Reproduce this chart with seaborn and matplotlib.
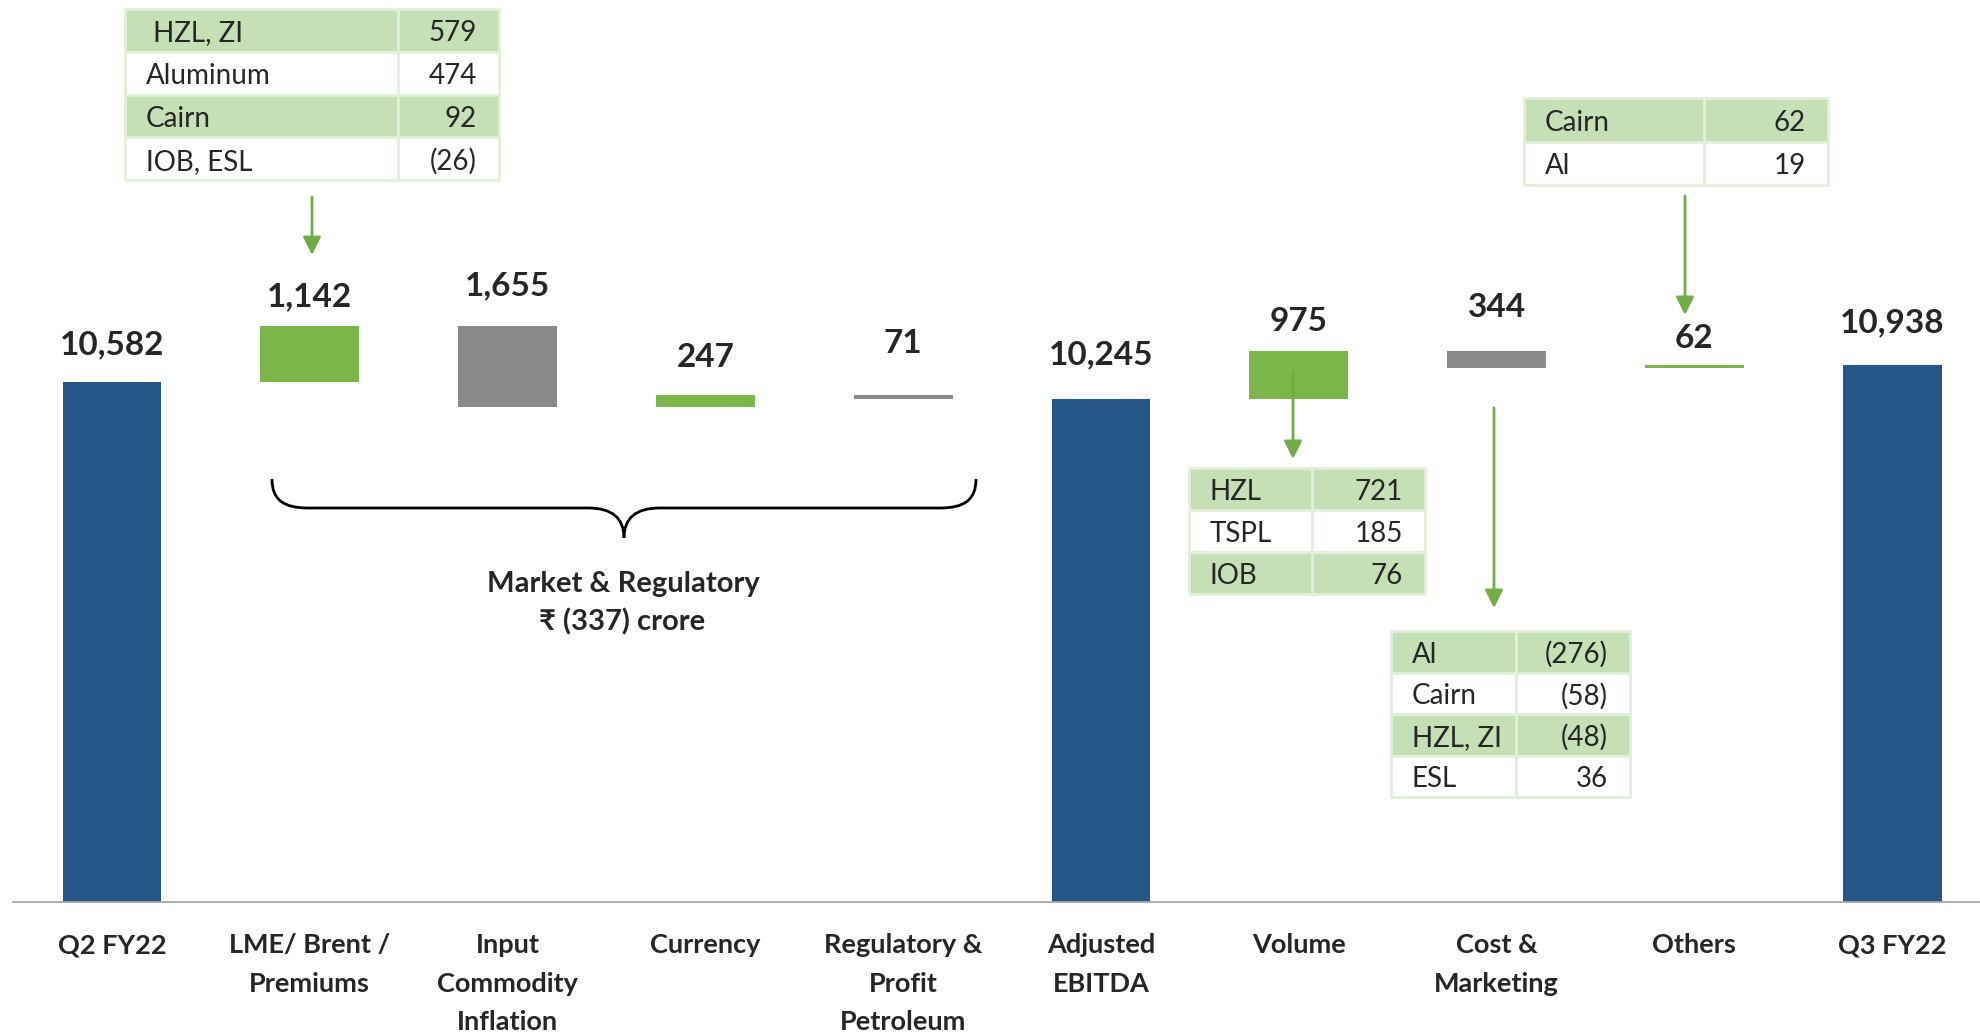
import numpy as np
import pandas as pd
import matplotlib
matplotlib.use('Agg')
from matplotlib import pyplot as plt
from matplotlib.patches import Rectangle, PathPatch
from matplotlib.path import Path
import seaborn as sns

# waterfall data (Rs crore)
categories = ['Q2 FY22', 'LME/ Brent /\nPremiums', 'Input\nCommodity\nInflation', 'Currency',
              'Regulatory &\nProfit\nPetroleum', 'Adjusted\nEBITDA', 'Volume', 'Cost &\nMarketing',
              'Others', 'Q3 FY22']
changes = [10582, 1142, -1655, 247, -71, 10245, 975, -344, 62, 10938]
kinds = ['total', 'up', 'down', 'up', 'down', 'total', 'up', 'down', 'up', 'total']

# break-up tables
lme_names = [' HZL, ZI', 'Aluminum', 'Cairn', 'IOB, ESL']
lme_vals = [579, 474, 92, -26]
vol_names = ['HZL', 'TSPL', 'IOB']
vol_vals = [721, 185, 76]
cost_names = ['Al', 'Cairn', 'HZL, ZI', 'ESL']
cost_vals = [-276, -58, -48, 36]
oth_names = ['Cairn', 'Al']
oth_vals = [62, 19]
market_total = -337

W, H = 1981, 1033
PX_PER_UNIT = 0.04914

# bar bases / heights
base, height = [], []
level = 0
for v, k in zip(changes, kinds):
    if k == 'total':
        base.append(0)
        height.append(v)
        level = v
    else:
        base.append(min(level, level + v))
        height.append(abs(v))
        level += v
df = pd.DataFrame({'cat': categories, 'base': base, 'height': height, 'kind': kinds})

sns.set_style('white')
plt.rcParams['font.family'] = ['Lato', 'DejaVu Sans']

fig = plt.figure(figsize=(W / 100, H / 100), dpi=100)
ax = fig.add_axes([13.1 / W, 131 / H, 1978 / W, 902 / H])

palette = {'total': '#265687', 'up': '#7ab648', 'down': '#8a8a8a'}
for k, c in palette.items():
    sub = df[df.kind == k]
    sns.barplot(data=sub, x='cat', y='height', order=categories, bottom=sub['base'].to_numpy(),
                color=c, saturation=1, width=0.5, errorbar=None, linewidth=0, ax=ax)

ax.set_xlim(-0.5, 9.5)
ax.set_ylim(0, 902 / PX_PER_UNIT)
ax.set_xlabel('')
ax.set_ylabel('')
ax.set_yticks([])
for s in ['left', 'right', 'top']:
    ax.spines[s].set_visible(False)
ax.spines['bottom'].set_color('#a6a6a6')
ax.spines['bottom'].set_linewidth(1.3)
ax.set_xticks(range(len(categories)))
ax.set_xticklabels(categories, fontsize=19.5, fontweight='bold', linespacing=1.72)
ax.set_xticks(np.arange(-0.5, len(categories), 1), minor=True)
ax.tick_params(axis='x', which='major', length=0, pad=22.5)
ax.tick_params(axis='x', which='minor', length=8, color='#a6a6a6', width=1.2, direction='out')

# value labels, offset in px above the bar top
offsets = [37, 29, 40, 38, 52, 44, 29, 43, 26, 42]
for i, (b, h, v) in enumerate(zip(base, height, changes)):
    ax.annotate(f'{abs(v):,}', (i, b + h), xytext=(0, offsets[i] * 0.72), textcoords='offset points',
                ha='center', va='center', fontsize=24, fontweight='bold')

# overlay in pixel coordinates for tables, arrows and brace
ov = fig.add_axes([0, 0, 1, 1])
ov.patch.set_alpha(0)
ov.set_xlim(0, W)
ov.set_ylim(H, 0)
ov.axis('off')


def fmt(v):
    return f'({abs(v)})' if v < 0 else f'{v}'


def draw_table(x0, xs, x1, y0, rh, names, vals, ldx=21, rdx=22):
    for r, (n, v) in enumerate(zip(names, vals)):
        top = y0 + r * rh
        fc = '#c5e0b4' if r % 2 == 0 else 'white'
        ov.add_patch(Rectangle((x0, top), xs - x0, rh, facecolor=fc, edgecolor='#e2efda', lw=2))
        ov.add_patch(Rectangle((xs, top), x1 - xs, rh, facecolor=fc, edgecolor='#e2efda', lw=2))
        ov.text(x0 + ldx, top + rh / 2 + 3, n, ha='left', va='center', fontsize=20)
        ov.text(x1 - rdx, top + rh / 2 + 3, fmt(v), ha='right', va='center', fontsize=20)


draw_table(125, 398, 499, 9, 42.75, lme_names, lme_vals)
draw_table(1524, 1704, 1828, 98, 43.5, oth_names, oth_vals)
draw_table(1189, 1312, 1425, 468, 42, vol_names, vol_vals)
draw_table(1391, 1516, 1630, 631, 41.5, cost_names, cost_vals)


def arrow(x, y0, y1):
    ov.annotate('', xy=(x, y1), xytext=(x, y0),
                arrowprops=dict(arrowstyle='-|>', color='#70ad47', lw=2, mutation_scale=27,
                                shrinkA=0, shrinkB=0))


arrow(312, 197, 255)
arrow(1685, 196, 315)
arrow(1293, 372, 459)
arrow(1494, 408, 608)

# curly brace under the market & regulatory bars
cx, xl, xr = 624, 272, 976
yt, yl, yc = 479, 508, 538
for sgn, xe in [(1, xr), (-1, xl)]:
    verts = [(cx, yc), (cx, yc - 20), (cx + sgn * 12, yl), (cx + sgn * 36, yl),
             (xe - sgn * 36, yl), (xe - sgn * 12, yl), (xe, yl - 8), (xe, yt)]
    codes = [Path.MOVETO, Path.CURVE4, Path.CURVE4, Path.CURVE4,
             Path.LINETO, Path.CURVE4, Path.CURVE4, Path.CURVE4]
    ov.add_patch(PathPatch(Path(verts, codes), fill=False, lw=2, edgecolor='black'))

ov.text(623, 584, 'Market & Regulatory', ha='center', va='center', fontsize=21, fontweight='bold')
ov.text(622, 622, f'\u20b9 ({abs(market_total)}) crore', ha='center', va='center',
        fontsize=21, fontweight='bold')

fig.savefig('out.png', dpi=100)
